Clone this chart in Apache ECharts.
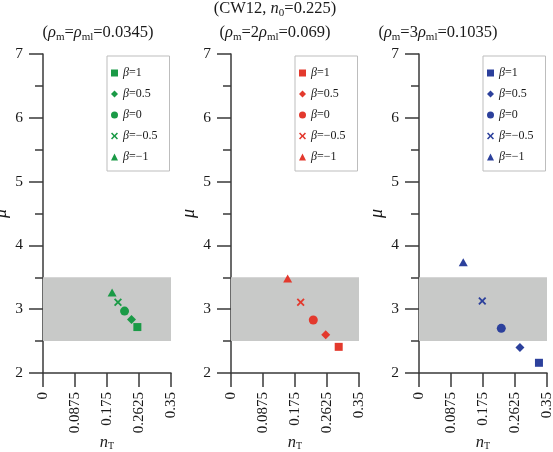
<!DOCTYPE html>
<html>
<head>
<meta charset="utf-8">
<script src="https://cdn.jsdelivr.net/npm/echarts@6/dist/echarts.min.js"></script>
<style>html,body{margin:0;padding:0;background:#fff}#c{width:553px;height:452px}</style>
</head>
<body>
<div id="c"></div>
<script>
var betaLabels = ['1', '0.5', '0', '\u22120.5', '\u22121'];
var xTickLabels = ['0', '0.0875', '0.175', '0.2625', '0.35'];
var yTickLabels = ['2', '3', '4', '5', '6', '7'];
var panel1_nT = [0.258, 0.242, 0.223, 0.205, 0.189];
var panel1_mu = [2.72, 2.84, 2.97, 3.11, 3.26];
var panel2_nT = [0.2945, 0.259, 0.225, 0.1905, 0.155];
var panel2_mu = [2.41, 2.60, 2.83, 3.11, 3.48];
var panel3_nT = [0.328, 0.276, 0.225, 0.173, 0.121];
var panel3_mu = [2.16, 2.40, 2.70, 3.13, 3.735];
var bandMu = [2.5, 3.5];
var bandNT = [0, 0.357];
var mainTitle = '(CW12, {i|n}{sub|0}=0.225)';
var panelTitles = ['({i|\u03c1}{sub|m}={i|\u03c1}{sub|ml}=0.0345)', '({i|\u03c1}{sub|m}=2{i|\u03c1}{sub|ml}=0.069)', '({i|\u03c1}{sub|m}=3{i|\u03c1}{sub|ml}=0.1035)'];
var panelColors = ['#1a9a46', '#e3392d', '#2c409c'];

var FONT = 'Liberation Serif';
var xPath = 'path://M0,1.6L1.6,0L5,3.4L8.4,0L10,1.6L6.6,5L10,8.4L8.4,10L5,6.6L1.6,10L0,8.4L3.4,5Z';
var symbols = ['rect', 'diamond', 'circle', xPath, 'triangle'];
var symbolSizes = [8, 9, 9, 8, [9, 8]];
var legendIcons = ['rect', 'diamond', 'circle', xPath, 'triangle'];

var panels = [[panel1_nT, panel1_mu], [panel2_nT, panel2_mu], [panel3_nT, panel3_mu]];
var gridLefts = [43, 231, 419];
var legendLefts = [107, 295, 483];
var titleCenters = [98, 275, 438];

var richTitle = {
  i: {fontStyle: 'italic', fontFamily: FONT, fontSize: 16.5, lineHeight: 20, color: '#1a1a1a'},
  sub: {fontFamily: FONT, fontSize: 11, lineHeight: 11, verticalAlign: 'bottom', color: '#1a1a1a'}
};

var grids = [], xAxes = [], yAxes = [], series = [], legends = [], titles = [];
titles.push({
  text: mainTitle, left: 275, top: -1, textAlign: 'center', padding: 0,
  textStyle: {fontFamily: FONT, fontSize: 16.5, fontWeight: 'normal', color: '#1a1a1a', lineHeight: 20, rich: richTitle}
});
var nameMap = {};
for (var p = 0; p < 3; p++) {
  titles.push({
    text: panelTitles[p], left: titleCenters[p], top: 23, textAlign: 'center', padding: 0,
    textStyle: {fontFamily: FONT, fontSize: 16.5, fontWeight: 'normal', color: '#1a1a1a', lineHeight: 20, rich: richTitle}
  });
  grids.push({left: gridLefts[p], top: 54, width: 128, height: 319, containLabel: false, outerBoundsMode: 'none'});
  xAxes.push({
    type: 'value', gridIndex: p, min: 0, max: 0.35, interval: 0.0875,
    splitLine: {show: false},
    axisLine: {show: true, onZero: false, lineStyle: {color: '#3a3a3a', width: 1.5}},
    axisTick: {show: true, inside: false, length: 14, lineStyle: {color: '#3a3a3a', width: 1.5}},
    axisLabel: {
      rotate: 90, margin: 19, fontFamily: FONT, fontSize: 15, color: '#1a1a1a',
      formatter: function (v, idx) { return xTickLabels[Math.round(v / 0.0875)]; }
    },
    name: '{i|n}{sub|T}', nameLocation: 'middle', nameGap: 62, nameMoveOverlap: false,
    nameTextStyle: {
      fontFamily: FONT, fontSize: 16, color: '#1a1a1a', lineHeight: 16,
      rich: {i: {fontStyle: 'italic', fontFamily: FONT, fontSize: 16.5, lineHeight: 16, color: '#1a1a1a'},
             sub: {fontFamily: FONT, fontSize: 10, lineHeight: 10, verticalAlign: 'bottom', color: '#1a1a1a'}}
    }
  });
  yAxes.push({
    type: 'value', gridIndex: p, min: 2, max: 7, interval: 1,
    splitLine: {show: false},
    axisLine: {show: true, onZero: false, lineStyle: {color: '#3a3a3a', width: 1.5}},
    axisTick: {show: true, inside: false, length: 14, lineStyle: {color: '#3a3a3a', width: 1.5}},
    minorTick: {show: true, splitNumber: 2, length: 8, lineStyle: {color: '#3a3a3a', width: 1.5}},
    minorSplitLine: {show: false},
    axisLabel: {
      margin: 20, fontFamily: FONT, fontSize: 15.5, color: '#1a1a1a',
      formatter: function (v) { return yTickLabels[Math.round(v - 2)]; }
    },
    name: 'μ', nameLocation: 'middle', nameGap: 33, nameMoveOverlap: false,
    nameTextStyle: {fontFamily: FONT, fontSize: 18, fontStyle: 'italic', color: '#1a1a1a'}
  });
  var legendData = [];
  for (var k = 0; k < 5; k++) {
    var nm = 'p' + p + '_' + k;
    nameMap[nm] = '{i|β}=' + betaLabels[k];
    legendData.push({name: nm, icon: legendIcons[k]});
    var s = {
      type: 'scatter', name: nm, xAxisIndex: p, yAxisIndex: p,
      symbol: symbols[k], symbolSize: symbolSizes[k], clip: false,
      itemStyle: {color: panelColors[p], opacity: 1},
      data: [[panels[p][0][k], panels[p][1][k]]],
      z: 5
    };
    if (k === 0) {
      s.markArea = {
        silent: true,
        itemStyle: {color: '#c8c9c8', opacity: 1},
        data: [[{xAxis: bandNT[0], yAxis: bandMu[0]}, {xAxis: bandNT[1], yAxis: bandMu[1]}]],
        z: 1
      };
    }
    series.push(s);
  }
  legends.push({
    data: legendData, orient: 'vertical', left: legendLefts[p], top: 56,
    padding: [10, 12, 7, 4], itemGap: 7, itemWidth: 7, itemHeight: 7,
    borderColor: '#bdbdbd', borderWidth: 1, selectedMode: false,
    formatter: function (n) { return nameMap[n]; },
    textStyle: {fontFamily: FONT, fontSize: 12, color: '#1a1a1a', lineHeight: 14,
      rich: {i: {fontStyle: 'italic', fontFamily: FONT, fontSize: 12, lineHeight: 14, color: '#1a1a1a'}}}
  });
}

var chart = echarts.init(document.getElementById('c'), null, {renderer: 'canvas'});
chart.setOption({
  animation: false,
  backgroundColor: '#fff',
  title: titles,
  grid: grids,
  xAxis: xAxes,
  yAxis: yAxes,
  legend: legends,
  series: series
});
</script>
</body>
</html>
